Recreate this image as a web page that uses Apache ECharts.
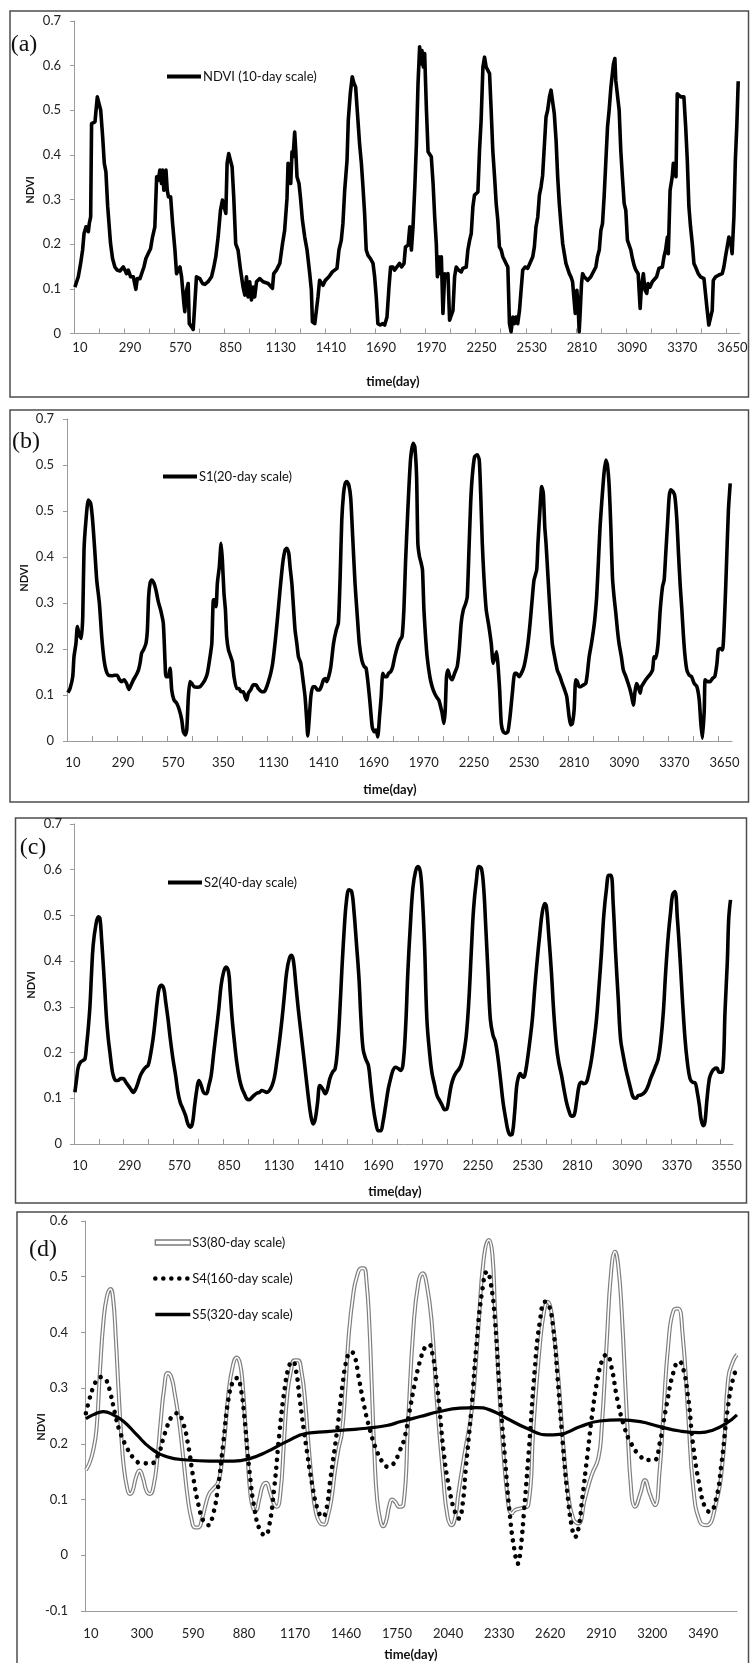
<!DOCTYPE html>
<html>
<head>
<meta charset="utf-8">
<title>NDVI multi-scale series</title>
<script src="https://cdn.jsdelivr.net/npm/echarts@6/dist/echarts.min.js"></script>
<style>
	html, body { margin: 0; padding: 0; background: #fff; }
	#chart { width: 750px; height: 1663px; }
</style>
</head>
<body>
<div id="chart"></div>
<script>
'use strict';

// x axis: tick marks every 14 samples, labels every 28 (panels a-c) or 29 (panel d)
var tickDays = [5, 145, 285, 425, 565, 705, 845, 985, 1125, 1265, 1405, 1545, 1685, 1825, 1965,
	2105, 2245, 2385, 2525, 2665, 2805, 2945, 3085, 3225, 3365, 3505, 3645];
var labelDays = [10, 290, 570, 850, 1130, 1410, 1690, 1970, 2250, 2530, 2810, 3090, 3370, 3650];
var labelTextA = ['10', '290', '570', '850', '1130', '1410', '1690', '1970', '2250', '2530', '2810', '3090', '3370', '3650'];
var labelTextB = ['10', '290', '570', '350', '1130', '1410', '1690', '1970', '2250', '2530', '2810', '3090', '3370', '3650'];
var labelTextC = ['10', '290', '570', '850', '1130', '1410', '1690', '1970', '2250', '2530', '2810', '3090', '3370', '3550'];
var labelDaysD = [10, 300, 590, 880, 1170, 1460, 1750, 2040, 2330, 2620, 2910, 3200, 3490];
var labelTextD = ['10', '300', '590', '880', '1170', '1460', '1750', '2040', '2330', '2620', '2910', '3200', '3490'];

// y axis labels
var yText = ['0', '0.1', '0.2', '0.3', '0.4', '0.5', '0.6', '0.7'];
var yTextB = ['0', '0.1', '0.2', '0.3', '0.4', '0.5', '0.5', '0.7'];
var yTextD = ['-0.1', '0', '0.1', '0.2', '0.3', '0.4', '0.5', '0.6'];

// (a) NDVI, 10-day scale  [day, value]
var ndvi10 = [[10,0.104],[29,0.127],[42,0.157],[53,0.187],[61,0.224],[72,0.239],[85,0.228],[90,0.246],[98,0.261],[103,0.47],[113,0.474],[122,0.474],[128,0.5],[135,0.53],[146,0.528],[154,0.5],[165,0.44],[174,0.381],[183,0.362],[193,0.284],[202,0.28],[209,0.201],[220,0.168],[233,0.149],[246,0.142],[261,0.14],[280,0.149],[289,0.142],[298,0.134],[308,0.142],[321,0.127],[336,0.127],[350,0.099],[358,0.123],[373,0.123],[382,0.127],[395,0.149],[406,0.168],[419,0.179],[432,0.19],[443,0.216],[456,0.239],[466,0.351],[475,0.343],[484,0.366],[493,0.336],[499,0.366],[506,0.321],[518,0.366],[525,0.321],[532,0.306],[544,0.306],[555,0.246],[568,0.187],[577,0.134],[586,0.134],[596,0.149],[605,0.127],[618,0.067],[623,0.049],[633,0.097],[642,0.112],[648,0.022],[661,0.015],[670,0.009],[679,0.067],[688,0.127],[698,0.131],[707,0.123],[722,0.112],[735,0.11],[753,0.116],[772,0.127],[785,0.149],[796,0.172],[809,0.216],[822,0.276],[833,0.299],[842,0.302],[852,0.269],[859,0.381],[868,0.403],[878,0.407],[887,0.373],[896,0.306],[907,0.201],[920,0.187],[934,0.142],[948,0.104],[958,0.086],[967,0.127],[976,0.082],[985,0.116],[995,0.075],[1004,0.104],[1013,0.082],[1023,0.116],[1041,0.123],[1060,0.116],[1088,0.112],[1112,0.101],[1119,0.134],[1134,0.142],[1153,0.157],[1168,0.201],[1180,0.231],[1193,0.302],[1199,0.381],[1208,0.384],[1214,0.336],[1221,0.407],[1227,0.396],[1236,0.451],[1242,0.41],[1249,0.351],[1260,0.336],[1268,0.306],[1279,0.254],[1292,0.216],[1305,0.187],[1320,0.134],[1329,0.097],[1335,0.026],[1348,0.022],[1357,0.026],[1366,0.082],[1375,0.119],[1385,0.119],[1394,0.108],[1407,0.119],[1418,0.119],[1427,0.127],[1435,0.127],[1446,0.138],[1459,0.142],[1472,0.146],[1483,0.187],[1496,0.209],[1505,0.246],[1515,0.321],[1528,0.388],[1535,0.478],[1546,0.537],[1557,0.575],[1567,0.56],[1576,0.552],[1585,0.5],[1598,0.425],[1608,0.381],[1617,0.328],[1626,0.269],[1635,0.187],[1645,0.175],[1658,0.168],[1673,0.157],[1682,0.127],[1691,0.082],[1700,0.022],[1713,0.019],[1725,0.022],[1738,0.019],[1751,0.037],[1762,0.104],[1771,0.149],[1784,0.149],[1793,0.142],[1806,0.149],[1821,0.157],[1832,0.149],[1846,0.157],[1854,0.194],[1869,0.198],[1878,0.239],[1887,0.187],[1896,0.239],[1906,0.328],[1915,0.425],[1924,0.56],[1933,0.642],[1939,0.604],[1946,0.634],[1954,0.597],[1961,0.627],[1971,0.5],[1980,0.407],[1989,0.403],[1998,0.396],[2008,0.336],[2017,0.261],[2026,0.201],[2032,0.127],[2039,0.172],[2047,0.134],[2054,0.172],[2063,0.045],[2073,0.134],[2082,0.127],[2091,0.134],[2100,0.03],[2110,0.03],[2119,0.052],[2128,0.127],[2137,0.149],[2150,0.142],[2165,0.138],[2174,0.146],[2193,0.149],[2202,0.187],[2212,0.209],[2221,0.224],[2230,0.284],[2239,0.31],[2258,0.317],[2267,0.41],[2276,0.478],[2286,0.597],[2295,0.619],[2304,0.597],[2314,0.593],[2323,0.582],[2332,0.5],[2341,0.41],[2351,0.351],[2360,0.291],[2369,0.254],[2378,0.194],[2388,0.187],[2397,0.172],[2406,0.168],[2415,0.157],[2425,0.149],[2434,0.022],[2443,0.004],[2453,0.037],[2462,0.022],[2471,0.037],[2480,0.022],[2490,0.052],[2499,0.097],[2508,0.142],[2521,0.149],[2536,0.146],[2545,0.149],[2564,0.172],[2573,0.194],[2582,0.239],[2592,0.261],[2601,0.31],[2610,0.328],[2619,0.354],[2629,0.358],[2638,0.485],[2647,0.5],[2657,0.53],[2666,0.545],[2675,0.545],[2684,0.493],[2694,0.433],[2703,0.351],[2712,0.291],[2721,0.246],[2731,0.201],[2740,0.179],[2749,0.157],[2768,0.134],[2777,0.127],[2786,0.116],[2796,0.112],[2801,0.045],[2810,0.097],[2818,0.052],[2823,0.004],[2829,0.052],[2836,0.112],[2842,0.134],[2851,0.127],[2870,0.119],[2888,0.127],[2916,0.149],[2925,0.172],[2935,0.187],[2944,0.231],[2953,0.246],[2962,0.306],[2972,0.388],[2981,0.463],[2990,0.5],[3000,0.552],[3005,0.556],[3014,0.604],[3022,0.616],[3027,0.567],[3037,0.563],[3046,0.5],[3055,0.41],[3064,0.351],[3074,0.291],[3083,0.276],[3092,0.209],[3111,0.187],[3120,0.168],[3129,0.153],[3139,0.142],[3152,0.134],[3163,0.056],[3170,0.104],[3181,0.134],[3190,0.097],[3200,0.09],[3207,0.112],[3218,0.104],[3231,0.116],[3241,0.119],[3255,0.127],[3268,0.146],[3287,0.149],[3296,0.172],[3305,0.187],[3315,0.216],[3320,0.179],[3330,0.321],[3342,0.351],[3348,0.381],[3355,0.373],[3363,0.351],[3370,0.537],[3380,0.541],[3389,0.53],[3398,0.534],[3407,0.53],[3417,0.463],[3426,0.388],[3435,0.284],[3444,0.239],[3454,0.201],[3463,0.157],[3472,0.149],[3487,0.134],[3500,0.127],[3519,0.123],[3528,0.119],[3537,0.052],[3546,0.019],[3556,0.019],[3565,0.052],[3571,0.119],[3584,0.127],[3602,0.131],[3621,0.134],[3630,0.149],[3639,0.172],[3648,0.175],[3658,0.216],[3667,0.209],[3676,0.179],[3686,0.261],[3694,0.388],[3702,0.463],[3710,0.565]];

// (b) S1, 20-day scale
var s1 = [[10,0.105],[22,0.114],[37,0.14],[44,0.183],[55,0.212],[63,0.249],[74,0.23],[85,0.223],[93,0.27],[100,0.415],[111,0.48],[124,0.524],[137,0.517],[148,0.48],[160,0.415],[171,0.35],[186,0.299],[199,0.227],[212,0.176],[223,0.154],[236,0.143],[255,0.142],[273,0.143],[286,0.143],[297,0.134],[311,0.129],[324,0.133],[338,0.125],[351,0.112],[363,0.122],[376,0.133],[391,0.143],[404,0.154],[413,0.169],[422,0.191],[432,0.198],[446,0.212],[454,0.241],[461,0.314],[469,0.343],[478,0.35],[491,0.343],[502,0.328],[515,0.303],[528,0.285],[543,0.256],[553,0.169],[558,0.14],[571,0.14],[581,0.158],[590,0.111],[603,0.089],[618,0.082],[633,0.067],[646,0.046],[655,0.02],[666,0.013],[674,0.024],[683,0.096],[692,0.129],[702,0.125],[715,0.118],[733,0.117],[748,0.118],[763,0.125],[776,0.133],[789,0.147],[804,0.183],[814,0.212],[823,0.307],[832,0.307],[838,0.292],[845,0.343],[856,0.379],[866,0.43],[873,0.393],[882,0.321],[890,0.285],[897,0.227],[907,0.198],[920,0.183],[929,0.172],[938,0.14],[953,0.114],[966,0.114],[977,0.107],[990,0.107],[1000,0.096],[1009,0.089],[1018,0.104],[1031,0.111],[1046,0.122],[1061,0.122],[1074,0.114],[1093,0.107],[1106,0.107],[1117,0.114],[1130,0.129],[1143,0.147],[1154,0.169],[1167,0.212],[1180,0.263],[1195,0.328],[1210,0.386],[1223,0.415],[1233,0.419],[1244,0.408],[1251,0.379],[1261,0.343],[1270,0.292],[1279,0.241],[1289,0.212],[1298,0.183],[1311,0.169],[1326,0.125],[1335,0.096],[1344,0.046],[1350,0.011],[1359,0.053],[1367,0.096],[1378,0.118],[1391,0.118],[1404,0.111],[1415,0.111],[1425,0.118],[1438,0.133],[1449,0.136],[1456,0.129],[1467,0.14],[1479,0.162],[1494,0.212],[1509,0.241],[1521,0.256],[1531,0.357],[1540,0.48],[1550,0.538],[1559,0.56],[1568,0.564],[1579,0.557],[1590,0.528],[1601,0.444],[1614,0.343],[1627,0.27],[1638,0.212],[1652,0.176],[1665,0.162],[1676,0.158],[1687,0.125],[1698,0.082],[1710,0.031],[1721,0.02],[1732,0.024],[1741,0.009],[1751,0.053],[1760,0.096],[1769,0.147],[1779,0.14],[1792,0.14],[1801,0.147],[1814,0.151],[1825,0.162],[1836,0.183],[1851,0.205],[1866,0.22],[1877,0.227],[1887,0.285],[1896,0.386],[1909,0.502],[1924,0.611],[1939,0.647],[1948,0.64],[1958,0.575],[1965,0.43],[1974,0.401],[1984,0.386],[1991,0.372],[1999,0.285],[2008,0.227],[2017,0.183],[2032,0.14],[2045,0.118],[2058,0.104],[2069,0.096],[2082,0.089],[2092,0.075],[2101,0.06],[2110,0.038],[2118,0.067],[2125,0.14],[2133,0.154],[2144,0.14],[2157,0.133],[2170,0.147],[2185,0.162],[2196,0.198],[2207,0.256],[2219,0.285],[2232,0.299],[2241,0.314],[2250,0.408],[2260,0.517],[2269,0.575],[2282,0.618],[2297,0.622],[2308,0.611],[2316,0.538],[2325,0.43],[2334,0.357],[2347,0.285],[2362,0.249],[2375,0.212],[2386,0.169],[2396,0.183],[2405,0.194],[2412,0.169],[2422,0.111],[2431,0.038],[2442,0.02],[2455,0.017],[2468,0.02],[2480,0.053],[2493,0.104],[2506,0.147],[2517,0.147],[2530,0.14],[2543,0.147],[2558,0.162],[2569,0.183],[2580,0.212],[2592,0.256],[2605,0.314],[2614,0.35],[2629,0.372],[2636,0.43],[2647,0.502],[2657,0.553],[2666,0.538],[2674,0.466],[2681,0.43],[2692,0.357],[2703,0.285],[2716,0.212],[2729,0.183],[2744,0.154],[2759,0.14],[2772,0.125],[2785,0.111],[2797,0.096],[2810,0.053],[2819,0.035],[2828,0.038],[2838,0.067],[2847,0.133],[2856,0.129],[2866,0.118],[2875,0.118],[2890,0.122],[2903,0.125],[2912,0.147],[2922,0.183],[2935,0.212],[2946,0.241],[2953,0.263],[2964,0.314],[2974,0.393],[2983,0.466],[2992,0.517],[3005,0.582],[3015,0.611],[3024,0.6],[3034,0.553],[3043,0.466],[3052,0.357],[3061,0.314],[3071,0.278],[3080,0.241],[3089,0.212],[3102,0.183],[3113,0.154],[3127,0.14],[3140,0.125],[3151,0.111],[3160,0.096],[3169,0.078],[3177,0.104],[3186,0.125],[3196,0.118],[3207,0.104],[3214,0.118],[3225,0.125],[3238,0.133],[3252,0.14],[3266,0.147],[3276,0.154],[3285,0.183],[3294,0.18],[3307,0.212],[3319,0.285],[3332,0.336],[3341,0.35],[3350,0.408],[3360,0.473],[3369,0.531],[3378,0.546],[3391,0.542],[3401,0.531],[3412,0.48],[3421,0.408],[3431,0.336],[3440,0.285],[3449,0.227],[3458,0.183],[3468,0.154],[3481,0.143],[3494,0.14],[3509,0.125],[3524,0.118],[3537,0.089],[3546,0.038],[3555,0.006],[3565,0.067],[3570,0.133],[3583,0.129],[3598,0.129],[3611,0.136],[3624,0.14],[3636,0.169],[3643,0.198],[3654,0.201],[3667,0.198],[3680,0.285],[3690,0.393],[3700,0.502],[3710,0.56]];

// (c) S2, 40-day scale
var s2 = [[10,0.113],[20,0.143],[29,0.168],[42,0.179],[57,0.183],[67,0.186],[76,0.216],[85,0.252],[95,0.303],[104,0.376],[113,0.435],[128,0.479],[142,0.497],[151,0.493],[160,0.45],[170,0.391],[179,0.333],[188,0.274],[198,0.23],[207,0.201],[216,0.172],[226,0.15],[241,0.139],[254,0.139],[267,0.143],[282,0.143],[297,0.135],[310,0.128],[323,0.121],[338,0.113],[353,0.121],[366,0.135],[379,0.15],[394,0.161],[409,0.168],[422,0.172],[435,0.194],[450,0.23],[463,0.274],[473,0.311],[484,0.34],[497,0.347],[510,0.34],[521,0.311],[534,0.274],[547,0.23],[562,0.186],[577,0.15],[590,0.113],[603,0.091],[618,0.077],[633,0.062],[646,0.044],[659,0.037],[671,0.044],[684,0.084],[697,0.121],[708,0.139],[721,0.128],[734,0.113],[749,0.11],[764,0.128],[777,0.15],[790,0.194],[805,0.245],[820,0.296],[833,0.347],[847,0.376],[861,0.387],[875,0.376],[884,0.333],[895,0.274],[908,0.223],[921,0.179],[936,0.143],[951,0.121],[964,0.11],[977,0.099],[992,0.097],[1007,0.102],[1020,0.107],[1034,0.111],[1049,0.113],[1063,0.117],[1077,0.115],[1090,0.113],[1105,0.117],[1120,0.128],[1133,0.146],[1146,0.179],[1161,0.223],[1176,0.274],[1189,0.325],[1202,0.376],[1217,0.406],[1230,0.413],[1241,0.398],[1254,0.347],[1267,0.296],[1282,0.245],[1295,0.201],[1310,0.15],[1325,0.099],[1338,0.062],[1351,0.044],[1363,0.055],[1376,0.091],[1389,0.128],[1404,0.121],[1419,0.11],[1432,0.121],[1445,0.143],[1460,0.157],[1475,0.165],[1488,0.208],[1501,0.289],[1512,0.376],[1525,0.464],[1538,0.53],[1553,0.556],[1568,0.552],[1581,0.508],[1594,0.442],[1609,0.362],[1620,0.274],[1632,0.208],[1647,0.186],[1662,0.172],[1675,0.128],[1688,0.084],[1703,0.048],[1718,0.029],[1731,0.029],[1744,0.048],[1759,0.084],[1774,0.121],[1787,0.143],[1800,0.161],[1815,0.168],[1830,0.165],[1843,0.161],[1856,0.172],[1871,0.252],[1884,0.376],[1897,0.471],[1912,0.559],[1927,0.596],[1941,0.607],[1954,0.596],[1965,0.545],[1978,0.435],[1991,0.274],[2006,0.201],[2019,0.157],[2035,0.128],[2048,0.106],[2063,0.095],[2078,0.084],[2091,0.075],[2104,0.077],[2115,0.099],[2128,0.128],[2142,0.146],[2157,0.157],[2172,0.164],[2185,0.175],[2198,0.197],[2213,0.238],[2228,0.318],[2241,0.42],[2254,0.515],[2269,0.574],[2284,0.607],[2298,0.603],[2311,0.559],[2322,0.479],[2335,0.376],[2348,0.274],[2363,0.238],[2377,0.223],[2392,0.186],[2405,0.143],[2420,0.091],[2435,0.055],[2448,0.029],[2461,0.02],[2472,0.022],[2485,0.069],[2495,0.121],[2504,0.143],[2517,0.154],[2532,0.146],[2542,0.15],[2555,0.179],[2570,0.223],[2585,0.274],[2598,0.34],[2611,0.398],[2626,0.457],[2641,0.508],[2655,0.526],[2664,0.519],[2677,0.457],[2692,0.376],[2705,0.289],[2720,0.216],[2733,0.179],[2749,0.15],[2762,0.121],[2777,0.091],[2790,0.073],[2805,0.061],[2818,0.062],[2833,0.091],[2848,0.128],[2861,0.135],[2874,0.132],[2889,0.135],[2904,0.157],[2918,0.186],[2931,0.223],[2946,0.274],[2959,0.34],[2974,0.42],[2987,0.501],[3002,0.559],[3015,0.588],[3027,0.588],[3040,0.523],[3053,0.42],[3068,0.318],[3081,0.23],[3096,0.194],[3111,0.164],[3124,0.143],[3138,0.121],[3153,0.102],[3168,0.1],[3181,0.106],[3194,0.107],[3209,0.11],[3224,0.117],[3237,0.128],[3250,0.143],[3265,0.157],[3280,0.172],[3293,0.186],[3307,0.223],[3322,0.289],[3335,0.376],[3350,0.457],[3363,0.508],[3374,0.545],[3387,0.552],[3401,0.493],[3416,0.406],[3429,0.318],[3444,0.23],[3457,0.179],[3472,0.143],[3487,0.135],[3500,0.134],[3513,0.113],[3525,0.084],[3534,0.055],[3547,0.04],[3556,0.048],[3566,0.091],[3581,0.143],[3594,0.157],[3607,0.164],[3622,0.166],[3637,0.157],[3650,0.157],[3660,0.179],[3669,0.289],[3682,0.398],[3690,0.493],[3700,0.534]];

// (d) S3 80-day, S4 160-day, S5 320-day
var s3 = [[10,0.153],[30,0.165],[50,0.186],[70,0.225],[90,0.33],[110,0.42],[130,0.465],[150,0.478],[165,0.46],[180,0.39],[195,0.3],[210,0.22],[225,0.16],[245,0.12],[260,0.11],[275,0.115],[295,0.14],[315,0.152],[335,0.138],[355,0.115],[375,0.11],[395,0.125],[415,0.17],[435,0.24],[455,0.3],[475,0.327],[495,0.32],[515,0.29],[540,0.24],[565,0.17],[590,0.1],[610,0.065],[630,0.05],[650,0.05],[670,0.065],[690,0.09],[710,0.11],[735,0.12],[760,0.13],[780,0.16],[800,0.22],[820,0.29],[845,0.34],[867,0.355],[885,0.345],[900,0.31],[915,0.24],[930,0.17],[945,0.11],[960,0.085],[975,0.08],[995,0.1],[1015,0.125],[1035,0.13],[1055,0.115],[1075,0.095],[1095,0.087],[1115,0.11],[1135,0.2],[1155,0.29],[1175,0.33],[1195,0.35],[1215,0.35],[1235,0.33],[1255,0.28],[1275,0.2],[1295,0.13],[1315,0.08],[1340,0.058],[1365,0.055],[1385,0.07],[1405,0.1],[1425,0.15],[1445,0.19],[1465,0.22],[1485,0.3],[1505,0.4],[1530,0.47],[1550,0.5],[1575,0.515],[1590,0.515],[1605,0.49],[1620,0.42],[1635,0.3],[1650,0.18],[1665,0.1],[1685,0.06],[1700,0.052],[1715,0.06],[1735,0.09],[1750,0.1],[1770,0.095],[1790,0.087],[1814,0.09],[1842,0.246],[1871,0.407],[1900,0.49],[1924,0.506],[1945,0.49],[1975,0.419],[2003,0.282],[2041,0.138],[2065,0.07],[2089,0.054],[2110,0.07],[2126,0.11],[2164,0.186],[2202,0.258],[2240,0.407],[2270,0.53],[2300,0.566],[2320,0.54],[2335,0.44],[2373,0.228],[2411,0.09],[2430,0.075],[2448,0.081],[2490,0.085],[2524,0.09],[2553,0.228],[2590,0.378],[2615,0.44],[2634,0.455],[2650,0.445],[2666,0.41],[2695,0.318],[2723,0.198],[2751,0.108],[2780,0.065],[2808,0.057],[2846,0.102],[2884,0.144],[2922,0.174],[2941,0.228],[2969,0.378],[2995,0.51],[3017,0.545],[3035,0.52],[3055,0.437],[3083,0.258],[3111,0.108],[3130,0.087],[3160,0.11],[3187,0.135],[3215,0.11],[3244,0.09],[3270,0.15],[3291,0.25],[3320,0.38],[3350,0.44],[3375,0.443],[3400,0.4],[3433,0.25],[3462,0.12],[3500,0.06],[3537,0.054],[3585,0.085],[3632,0.18],[3660,0.318],[3690,0.35],[3710,0.36]];
var s4 = [[10,0.255],[30,0.28],[50,0.3],[75,0.315],[100,0.32],[125,0.315],[150,0.29],[175,0.255],[200,0.225],[240,0.195],[280,0.175],[330,0.165],[380,0.165],[420,0.18],[460,0.22],[500,0.25],[530,0.255],[560,0.24],[590,0.2],[620,0.14],[650,0.09],[680,0.06],[705,0.054],[730,0.07],[760,0.12],[790,0.2],[820,0.28],[850,0.315],[870,0.318],[890,0.3],[910,0.25],[940,0.15],[970,0.08],[1000,0.045],[1030,0.036],[1050,0.05],[1080,0.12],[1110,0.22],[1140,0.3],[1165,0.34],[1185,0.348],[1205,0.33],[1225,0.28],[1260,0.2],[1300,0.12],[1330,0.08],[1355,0.069],[1375,0.08],[1400,0.138],[1440,0.23],[1470,0.31],[1495,0.355],[1515,0.365],[1535,0.36],[1560,0.32],[1590,0.27],[1620,0.23],[1660,0.19],[1700,0.165],[1725,0.159],[1760,0.165],[1790,0.185],[1820,0.21],[1850,0.26],[1880,0.31],[1910,0.35],[1940,0.375],[1960,0.378],[1980,0.36],[2000,0.32],[2020,0.26],[2045,0.18],[2075,0.12],[2105,0.08],[2130,0.066],[2150,0.09],[2170,0.16],[2200,0.26],[2230,0.38],[2260,0.47],[2290,0.509],[2310,0.49],[2335,0.42],[2360,0.3],[2390,0.18],[2420,0.07],[2445,0.01],[2465,-0.015],[2480,0.01],[2500,0.08],[2530,0.2],[2560,0.33],[2590,0.42],[2620,0.455],[2640,0.45],[2665,0.41],[2690,0.32],[2720,0.2],[2750,0.1],[2775,0.045],[2790,0.033],[2810,0.05],[2830,0.1],[2860,0.18],[2890,0.26],[2920,0.32],[2950,0.355],[2970,0.36],[2995,0.34],[3030,0.28],[3070,0.23],[3110,0.2],[3160,0.178],[3200,0.171],[3240,0.171],[3270,0.2],[3310,0.27],[3350,0.33],[3380,0.348],[3400,0.34],[3430,0.29],[3460,0.2],[3500,0.12],[3530,0.085],[3555,0.078],[3590,0.1],[3620,0.16],[3660,0.27],[3690,0.32],[3710,0.336]];
var s5 = [[10,0.245],[50,0.252],[110,0.258],[165,0.252],[225,0.24],[300,0.216],[375,0.193],[470,0.177],[585,0.171],[715,0.169],[850,0.169],[945,0.174],[1040,0.186],[1150,0.204],[1265,0.219],[1380,0.222],[1490,0.225],[1605,0.228],[1720,0.233],[1800,0.24],[1910,0.249],[2020,0.258],[2135,0.264],[2230,0.265],[2305,0.261],[2400,0.246],[2515,0.228],[2630,0.216],[2700,0.217],[2820,0.231],[2930,0.241],[3045,0.243],[3160,0.24],[3270,0.231],[3385,0.223],[3500,0.22],[3575,0.225],[3650,0.237],[3710,0.252]];

var FONT = 'Lato, "Noto Sans", sans-serif';
var AXIS_GRAY = '#9a9a9a';
// hides the marker ECharts puts in the middle of a line-series legend icon
var NO_MARK = { color: 'rgba(0,0,0,0)', borderColor: 'rgba(0,0,0,0)', borderWidth: 0, opacity: 0 };
var DOTS = [0.01, 8];

var chart = echarts.init(document.getElementById('chart'), null, { renderer: 'canvas' });

function makeXAxis(gridIndex, max, days, texts, ticks, margin) {
	return {
		type: 'value',
		gridIndex: gridIndex,
		min: 5,
		max: max,
		axisLine: { show: true, onZero: false, lineStyle: { color: AXIS_GRAY, width: 1 } },
		axisTick: ticks ? { show: true, inside: true, length: 5, customValues: ticks, lineStyle: { color: AXIS_GRAY } } : { show: false },
		axisLabel: {
			customValues: days,
			margin: margin,
			padding: [0, 0, 0, 10],
			color: '#222',
			fontSize: 13,
			fontFamily: FONT,
			formatter: function (v) {
				var i = days.indexOf(Math.round(v));
				return i < 0 ? '' : texts[i];
			}
		},
		splitLine: { show: false }
	};
}

function makeYAxis(gridIndex, min, texts, margin) {
	return {
		type: 'value',
		gridIndex: gridIndex,
		min: min,
		max: min + 0.7,
		interval: 0.1,
		axisLine: { show: true, lineStyle: { color: AXIS_GRAY, width: 1 } },
		axisTick: { show: true, length: 4, lineStyle: { color: AXIS_GRAY } },
		axisLabel: {
			margin: margin,
			color: '#222',
			fontSize: 13,
			fontFamily: FONT,
			formatter: function (v) {
				return texts[Math.round((v - min) * 10)];
			}
		},
		splitLine: { show: false }
	};
}

function blackLine(name, data, idx, width, smooth) {
	return {
		name: name,
		type: 'line',
		xAxisIndex: idx,
		yAxisIndex: idx,
		data: data,
		symbol: 'none',
		smooth: smooth,
		lineStyle: { color: '#000', width: width, join: 'round' },
		itemStyle: { color: '#000' }
	};
}

function legendAt(left, top, name) {
	return {
		left: left,
		top: top,
		padding: 0,
		itemWidth: 34,
		itemHeight: 14,
		selectedMode: false,
		data: [{ name: name, itemStyle: NO_MARK, lineStyle: { color: '#000', width: 4 } }],
		textStyle: { fontSize: 13, fontFamily: FONT, color: '#111', padding: [0, 0, 0, -3] }
	};
}

function boxRect(x, y, w, h) {
	return { type: 'rect', silent: true, shape: { x: x, y: y, width: w, height: h }, style: { fill: 'none', stroke: '#4d4d4d', lineWidth: 1.5 } };
}

function label(text, x, y, font, rot) {
	return {
		type: 'text', silent: true, x: x, y: y, rotation: rot || 0,
		style: { text: text, font: font, fill: '#111', align: 'center', verticalAlign: 'middle' }
	};
}

var serif = '24px "Liberation Serif", "DejaVu Serif", serif';
var bold13 = 'bold 13px ' + FONT;
var bold11 = 'bold 11px ' + FONT;

var option = {
	animation: false,
	backgroundColor: '#fff',
	grid: [
		{ left: 74, top: 21, width: 666, height: 312.5, outerBoundsMode: 'none' },
		{ left: 67, top: 419, width: 665, height: 322, outerBoundsMode: 'none' },
		{ left: 74, top: 824, width: 659, height: 320, outerBoundsMode: 'none' },
		{ left: 85, top: 1221, width: 652, height: 390, outerBoundsMode: 'none' }
	],
	xAxis: [
		makeXAxis(0, 3720, labelDays, labelTextA, tickDays, 8),
		makeXAxis(1, 3720, labelDays, labelTextB, tickDays, 15),
		makeXAxis(2, 3714, labelDays, labelTextC, tickDays, 15),
		makeXAxis(3, 3710, labelDaysD, labelTextD, null, 16)
	],
	yAxis: [
		makeYAxis(0, 0, yText, 13),
		makeYAxis(1, 0, yTextB, 13),
		makeYAxis(2, 0, yText, 12),
		makeYAxis(3, -0.1, yTextD, 17)
	],
	legend: [
		legendAt(165, 70, 'NDVI (10-day scale)'),
		legendAt(161, 470, 'S1(20-day scale)'),
		legendAt(166, 876, 'S2(40-day scale)'),
		{
			left: 153,
			top: 1236,
			padding: 0,
			orient: 'vertical',
			itemWidth: 35,
			itemHeight: 5,
			itemGap: 23,
			selectedMode: false,
			textStyle: { fontSize: 13, fontFamily: FONT, color: '#111', padding: [0, 0, 0, -3] },
			data: [
				{ name: 'S3(80-day scale)', icon: 'rect', itemStyle: { color: '#fff', borderColor: '#7a7a7a', borderWidth: 1.3 } },
				{ name: 'S4(160-day scale)', itemStyle: NO_MARK, lineStyle: { color: '#000', width: 4.6, type: DOTS, cap: 'round' } },
				{ name: 'S5(320-day scale)', itemStyle: NO_MARK, lineStyle: { color: '#000', width: 3.4 } }
			]
		}
	],
	series: [
		blackLine('NDVI (10-day scale)', ndvi10, 0, 3.6, false),
		blackLine('S1(20-day scale)', s1, 1, 3.6, 0.2),
		blackLine('S2(40-day scale)', s2, 2, 3.6, 0.4),
		{
			name: 'S3(80-day scale)', type: 'line', xAxisIndex: 3, yAxisIndex: 3, data: s3,
			symbol: 'none', smooth: 0.5,
			lineStyle: { color: '#7f7f7f', width: 4 }, itemStyle: { color: '#7f7f7f' }
		},
		{
			name: 's3-core', type: 'line', xAxisIndex: 3, yAxisIndex: 3, data: s3,
			symbol: 'none', smooth: 0.5, silent: true,
			lineStyle: { color: '#ffffff', width: 1.6 }
		},
		{
			name: 'S4(160-day scale)', type: 'line', xAxisIndex: 3, yAxisIndex: 3, data: s4,
			symbol: 'none', smooth: 0.5,
			lineStyle: { color: '#000', width: 4.6, type: DOTS, cap: 'round' }, itemStyle: { color: '#000' }
		},
		blackLine('S5(320-day scale)', s5, 3, 3.2, 0.5)
	],
	graphic: [
		boxRect(10, 11, 738.5, 386),
		boxRect(10, 410, 738.5, 392),
		boxRect(15.5, 818, 731, 385),
		boxRect(17, 1212, 731.5, 460),
		label('(a)', 24, 45, serif),
		label('(b)', 26, 442, serif),
		label('(c)', 33, 848, serif),
		label('(d)', 43, 1250, serif),
		label('NDVI', 30, 190, bold11, Math.PI / 2),
		label('NDVI', 24, 578, bold11, Math.PI / 2),
		label('NDVI', 31, 985, bold11, Math.PI / 2),
		label('NDVI', 41, 1427, bold11, Math.PI / 2),
		label('time(day)', 393, 382, bold13),
		label('time(day)', 390, 790, bold13),
		label('time(day)', 395, 1192, bold13),
		label('time(day)', 411, 1655, bold13)
	]
};

chart.setOption(option);
</script>
</body>
</html>
